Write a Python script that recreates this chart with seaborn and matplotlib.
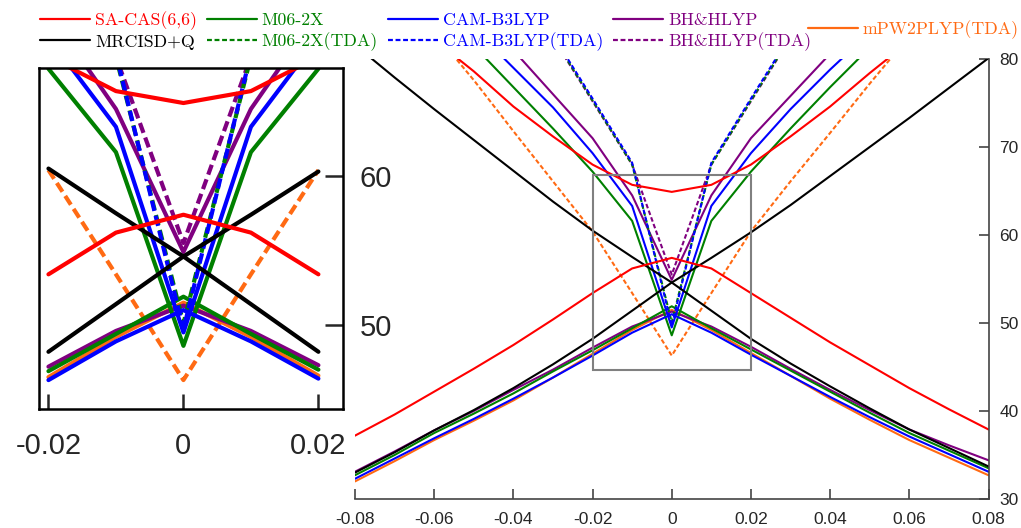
import numpy as np
import matplotlib
matplotlib.use("Agg")
import matplotlib.pyplot as plt
import seaborn as sns
from matplotlib.lines import Line2D
from matplotlib.patches import Rectangle

nan = np.nan

# displacement coordinate
X = [-0.08, -0.07, -0.06, -0.05, -0.04, -0.03, -0.02, -0.01, 0.0,
     0.01, 0.02, 0.03, 0.04, 0.05, 0.06, 0.07, 0.08]

# energies (kcal/mol), upper / lower states
red_hi = [nan, nan, 82.2, 78.6, 74.6, 71.2, 68.0, 65.7, 64.9, 65.7, 68.0, 71.2, 74.6, 78.4, 82.0, nan, nan]
red_lo = [37.2, 39.6, 42.2, 44.8, 47.5, 50.4, 53.4, 56.2, 57.4, 56.2, 53.4, 50.6, 47.8, 45.2, 42.6, 40.2, 37.9]
black_hi = [81.6, 77.9, 74.3, 70.8, 67.3, 63.8, 60.5, 57.5, 54.6, 57.4, 60.3, 63.4, 66.7, 70.0, 73.3, 76.7, 80.1]
black_lo = [33.0, 35.3, 37.8, 40.1, 42.6, 45.3, 48.2, 51.4, 54.6, 51.4, 48.2, 45.4, 42.8, 40.3, 37.9, 35.8, 33.7]
green_hi = [nan, nan, nan, 81.5, 76.8, 72.1, 67.2, 61.6, 48.6, 61.6, 67.2, 72.1, 76.8, 81.3, nan, nan, nan]
green_lo = [32.7, 35.0, 37.5, 39.7, 42.0, 44.5, 46.9, 49.4, 51.9, 49.4, 47.0, 44.6, 42.2, 39.8, 37.5, 35.5, 33.5]
green_tda = [nan, nan, nan, nan, nan, 82.5, 75.3, 68.0, 50.1, 68.0, 75.3, 82.5, nan, nan, nan, nan, nan]
blue_hi = [nan, nan, nan, 83.5, 79.0, 74.5, 69.3, 63.3, 49.5, 63.3, 69.3, 74.3, 78.8, 83.0, nan, nan, nan]
blue_lo = [32.3, 34.6, 36.9, 39.1, 41.4, 43.8, 46.3, 48.9, 51.0, 48.9, 46.4, 44.0, 41.6, 39.3, 37.1, 35.1, 33.1]
blue_tda = [nan, nan, nan, nan, nan, 82.7, 75.5, 68.2, 49.7, 68.2, 75.5, 82.7, nan, nan, nan, nan, nan]
purple_hi = [nan, nan, nan, nan, 81.0, 76.0, 71.0, 64.5, 54.9, 64.5, 71.0, 75.8, 80.6, nan, nan, nan, nan]
purple_lo = [33.1, 35.4, 37.8, 40.0, 42.4, 44.7, 47.2, 49.6, 51.3, 49.6, 47.3, 44.8, 42.4, 40.1, 37.9, 36.1, 34.4]
purple_tda = [nan, nan, nan, nan, nan, 82.4, 75.2, 68.0, 55.5, 68.0, 75.2, 82.4, nan, nan, nan, nan, nan]
orange_hi = [nan, nan, 83.0, 77.6, 71.8, 66.1, 60.4, 53.4, 46.3, 53.4, 60.4, 66.1, 71.6, 77.2, 82.6, nan, nan]
orange_lo = [32.0, 34.3, 36.7, 38.9, 41.2, 43.8, 46.5, 49.2, 51.5, 49.2, 46.6, 44.0, 41.4, 39.0, 36.7, 34.7, 32.7]

main_xticks = [-0.08, -0.06, -0.04, -0.02, 0, 0.02, 0.04, 0.06, 0.08]
main_xlabels = ["-0.08", "-0.06", "-0.04", "-0.02", "0", "0.02", "0.04", "0.06", "0.08"]
main_yticks = [30, 40, 50, 60, 70, 80]
inset_xticks = [-0.02, 0, 0.02]
inset_xlabels = ["-0.02", "0", "0.02"]
inset_yticks = [50, 60]
zoom_x = (-0.02, 0.02)
zoom_y = (44.7, 66.8)

RED, BLACK, GREEN, BLUE, PURPLE, ORANGE = "#ff0000", "#000000", "#008000", "#0000ff", "#800080", "#ff6a13"

# (data, colour, dashed)
curves = [
    (orange_lo, ORANGE, False), (orange_hi, ORANGE, True),
    (purple_lo, PURPLE, False), (purple_hi, PURPLE, False), (purple_tda, PURPLE, True),
    (green_lo, GREEN, False), (green_hi, GREEN, False), (green_tda, GREEN, True),
    (blue_lo, BLUE, False), (blue_hi, BLUE, False), (blue_tda, BLUE, True),
    (black_lo, BLACK, False), (black_hi, BLACK, False),
    (red_lo, RED, False), (red_hi, RED, False),
]

sns.set_style("ticks")
plt.rcParams["font.family"] = ["Liberation Sans", "DejaVu Sans"]


def draw_curves(ax, lw, dash, xrange=None):
    xs = np.array(X)
    keep = np.ones(len(xs), bool) if xrange is None else (xs >= xrange[0] - 1e-9) & (xs <= xrange[1] + 1e-9)
    for vals, col, dashed in curves:
        sns.lineplot(x=xs[keep], y=np.array(vals)[keep], ax=ax, color=col, lw=lw, estimator=None)
        if dashed:
            ax.get_lines()[-1].set_dashes(dash)


fig = plt.figure(figsize=(10.21, 5.28), dpi=100)

# main panel
ax = fig.add_axes([355 / 1021, 1 - 499 / 528, 633.5 / 1021, 440 / 528])
draw_curves(ax, 1.5, (2.2, 1.2))
ax.set_xlim(-0.08, 0.08)
ax.set_ylim(30, 80)
ax.add_patch(Rectangle((zoom_x[0], zoom_y[0]), zoom_x[1] - zoom_x[0], zoom_y[1] - zoom_y[0],
                       fill=False, ec="#808080", lw=1.5, zorder=5))
ax.spines["left"].set_visible(False)
ax.spines["top"].set_visible(False)
for s in ("bottom", "right"):
    ax.spines[s].set_color("#444444")
    ax.spines[s].set_linewidth(1.2)
ax.yaxis.tick_right()
ax.set_xticks(main_xticks, main_xlabels)
ax.set_yticks(main_yticks)
ax.tick_params(direction="in", length=7, width=1.2, color="#444444", labelsize=12.5, pad=8)
ax.tick_params(axis="x", pad=9)
ax.set_xlabel("")
ax.set_ylabel("")

# zoomed inset, drawn only over the zoom window
ins = fig.add_axes([39 / 1021, 1 - 409.3 / 528, 303.7 / 1021, 341 / 528])
draw_curves(ins, 3.0, (2.5, 1.2), xrange=zoom_x)
ins.set_xlim(-0.0214, 0.0236)
ins.set_ylim(44.34, 67.23)
for s in ins.spines.values():
    s.set_linewidth(1.8)
    s.set_color("black")
ins.yaxis.tick_right()
ins.set_xticks(inset_xticks, inset_xlabels)
ins.set_yticks(inset_yticks)
ins.tick_params(axis="x", direction="in", length=11, width=1.8, labelsize=21, pad=16)
ins.tick_params(axis="y", direction="in", length=13, width=1.8, labelsize=21, pad=12)

# legend
leg_font = {"family": ["cmr10", "DejaVu Serif"], "size": 12.8}
entries = [
    ("SA-CAS(6,6)", RED, "-"), ("MRCISD+Q", BLACK, "-"),
    ("M06-2X", GREEN, "-"), ("M06-2X(TDA)", GREEN, "--"),
    ("CAM-B3LYP", BLUE, "-"), ("CAM-B3LYP(TDA)", BLUE, "--"),
    ("BH&HLYP", PURPLE, "-"), ("BH&HLYP(TDA)", PURPLE, "--"),
]
handles = []
for name, col, ls in entries:
    h = Line2D([], [], color=col, lw=1.6)
    if ls == "--":
        h.set_dashes((2.2, 1.2))
    handles.append(h)
fig.legend(handles, [e[0] for e in entries], ncol=4, loc="upper left",
           bbox_to_anchor=(40 / 1021, 1 - 11 / 528), frameon=False, prop=leg_font,
           labelcolor="linecolor", handlelength=2.81, handletextpad=0.28,
           columnspacing=0.56, labelspacing=0.25, borderpad=0, borderaxespad=0)
fig.legend([Line2D([], [], color=ORANGE, lw=1.6)], ["mPW2PLYP(TDA)"], loc="center left",
           bbox_to_anchor=(808 / 1021, 1 - 30 / 528), frameon=False, prop=leg_font,
           labelcolor="linecolor", handlelength=2.81, handletextpad=0.28,
           borderpad=0, borderaxespad=0)

fig.savefig("out.png", dpi=100)
